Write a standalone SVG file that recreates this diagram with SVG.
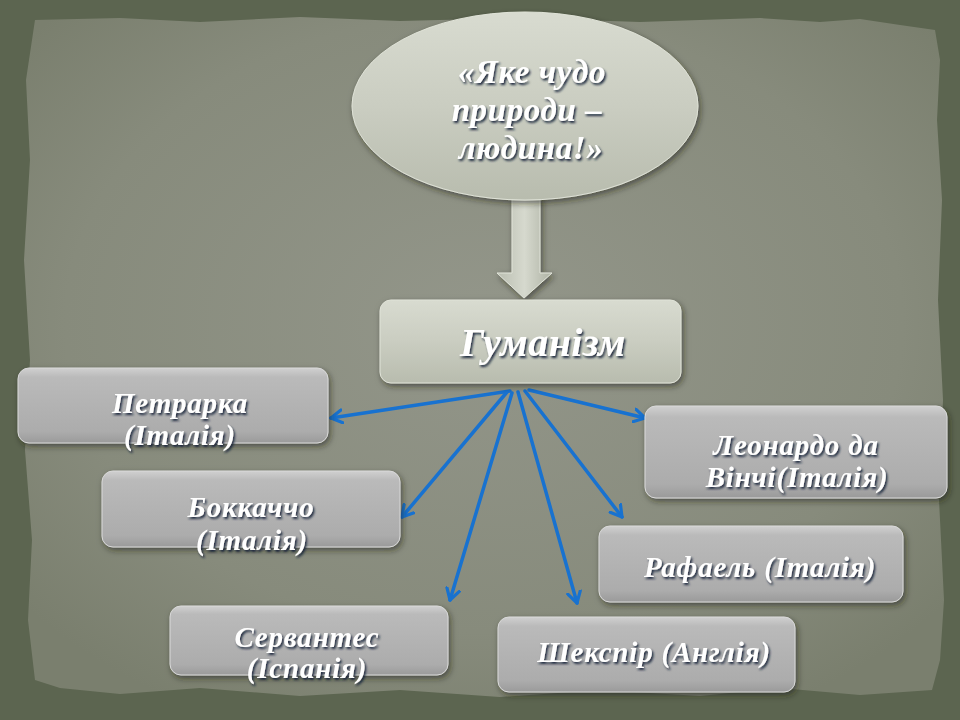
<svg xmlns="http://www.w3.org/2000/svg" width="960" height="720" viewBox="0 0 960 720">
<defs>
<style>
.lbl{font-family:"Liberation Serif","DejaVu Serif",serif;font-weight:bold;font-style:italic;fill:#ffffff;text-anchor:middle;filter:url(#ts)}
.s27{font-size:29px;letter-spacing:0.8px}
.s31{font-size:33px;letter-spacing:0.6px}
.box{fill:url(#gbox);stroke:#d9d9d9;stroke-width:1;filter:url(#ds)}
.conn{stroke:#1872d0;stroke-width:3.5;fill:none;stroke-linecap:round;marker-end:url(#ah)}
</style>
<radialGradient id="gpaper" cx="50%" cy="45%" r="65%">
<stop offset="0" stop-color="#93968a"/>
<stop offset="0.7" stop-color="#878b7c"/>
<stop offset="1" stop-color="#7a7f6e"/>
</radialGradient>
<linearGradient id="gbox" x1="0" y1="0" x2="0" y2="1">
<stop offset="0" stop-color="#d0d0d0"/>
<stop offset="0.12" stop-color="#bababa"/>
<stop offset="0.85" stop-color="#acacac"/>
<stop offset="1" stop-color="#9a9a9a"/>
</linearGradient>
<linearGradient id="ggreen" x1="0" y1="0" x2="0" y2="1">
<stop offset="0" stop-color="#d8dbd0"/>
<stop offset="0.5" stop-color="#cacdc1"/>
<stop offset="1" stop-color="#b8bcae"/>
</linearGradient>
<linearGradient id="garrow" x1="0" y1="0" x2="1" y2="0">
<stop offset="0" stop-color="#b9bdb0"/>
<stop offset="0.5" stop-color="#d6d9ce"/>
<stop offset="1" stop-color="#aeb2a4"/>
</linearGradient>
<filter id="ds" x="-10%" y="-20%" width="120%" height="150%">
<feDropShadow dx="2" dy="3" stdDeviation="3" flood-color="#202418" flood-opacity="0.55"/>
</filter>
<filter id="ts" x="-10%" y="-30%" width="120%" height="160%">
<feDropShadow dx="1.5" dy="2" stdDeviation="0.8" flood-color="#15213a" flood-opacity="0.95"/>
</filter>
<marker id="ah" viewBox="0 0 14 16" refX="12" refY="8" markerWidth="14" markerHeight="16" markerUnits="userSpaceOnUse" orient="auto">
<path d="M1,1.5 L12,8 L1,14.5" fill="none" stroke="#1872d0" stroke-width="3.2" stroke-linecap="round" stroke-linejoin="round"/>
</marker>
</defs>

<rect x="0" y="0" width="960" height="720" fill="#5c6550"/>
<path d="M35,20 L120,18 L200,22 L300,17 L400,21 L520,18 L640,22 L760,18 L820,22 L860,19 L900,25 L935,30 L940,60 L937,120 L942,200 L938,300 L943,400 L939,500 L944,600 L940,660 L932,690 L860,695 L780,688 L700,696 L600,690 L500,697 L400,690 L300,696 L200,688 L120,694 L60,688 L35,680 L28,620 L32,540 L25,450 L30,360 L24,260 L30,160 L26,80 Z" fill="url(#gpaper)"/>

<g id="connectors">
<line class="conn" x1="510" y1="391" x2="331" y2="418"/>
<line class="conn" x1="507" y1="392" x2="402" y2="517"/>
<line class="conn" x1="512" y1="393" x2="450" y2="600"/>
<line class="conn" x1="518" y1="392" x2="577" y2="603"/>
<line class="conn" x1="525" y1="391" x2="622" y2="517"/>
<line class="conn" x1="529" y1="390" x2="645" y2="418"/>
</g>

<g id="block-arrow">
<polygon points="512,196 540,196 540,273 552,273 524,298 497,273 512,273" fill="url(#garrow)" stroke="#e2e5da" stroke-width="1" filter="url(#ds)"/>
</g>

<g id="quote">
<ellipse cx="525" cy="106" rx="173" ry="94" fill="url(#ggreen)" stroke="#e0e3d8" stroke-width="1" filter="url(#ds)"/>
<text class="lbl s31" x="532" y="83">«Яке чудо</text>
<text class="lbl s31" x="527" y="121">природи –</text>
<text class="lbl s31" x="531" y="159">людина!»</text>
</g>

<g id="humanism">
<rect x="380" y="300" width="301" height="83" rx="11" fill="url(#ggreen)" stroke="#e0e3d8" stroke-width="1" filter="url(#ds)"/>
<text class="lbl" font-size="40" x="543" y="356" letter-spacing="0.5">Гуманізм</text>
</g>

<g id="petrarca">
<rect class="box" x="18" y="368" width="310" height="75" rx="11"/>
<text class="lbl s27" x="180" y="413">Петрарка</text>
<text class="lbl s27" x="180" y="445">(Італія)</text>
</g>

<g id="boccaccio">
<rect class="box" x="102" y="471" width="298" height="76" rx="11"/>
<text class="lbl s27" x="251" y="517">Боккаччо</text>
<text class="lbl s27" x="252" y="550">(Італія)</text>
</g>

<g id="cervantes">
<rect class="box" x="170" y="606" width="278" height="69" rx="11"/>
<text class="lbl s27" x="307" y="647">Сервантес</text>
<text class="lbl s27" x="307" y="678">(Іспанія)</text>
</g>

<g id="leonardo">
<rect class="box" x="645" y="406" width="302" height="92" rx="11"/>
<text class="lbl s27" x="796" y="455">Леонардо да</text>
<text class="lbl s27" x="797" y="487">Вінчі(Італія)</text>
</g>

<g id="raphael">
<rect class="box" x="599" y="526" width="304" height="76" rx="11"/>
<text class="lbl s27" x="760" y="577">Рафаель (Італія)</text>
</g>

<g id="shakespeare">
<rect class="box" x="498" y="617" width="297" height="75" rx="11"/>
<text class="lbl s27" x="654" y="662">Шекспір (Англія)</text>
</g>
</svg>
